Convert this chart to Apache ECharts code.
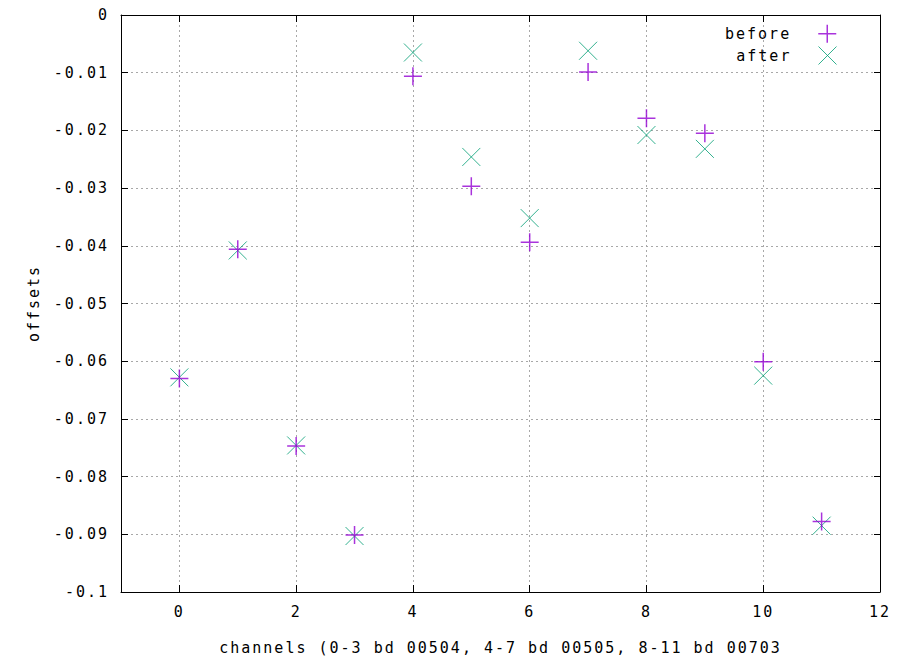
<!DOCTYPE html>
<html>
<head>
<meta charset="utf-8">
<script src="https://cdn.jsdelivr.net/npm/echarts@6/dist/echarts.min.js"></script>
<style>
html,body{margin:0;padding:0;background:#fff;}
#chart{width:904px;height:660px;}
#chart text{letter-spacing:2px;}
</style>
</head>
<body>
<div id="chart"></div>
<script>
// ---- data ----
var channels = [0, 1, 2, 3, 4, 5, 6, 7, 8, 9, 10, 11];
var before = [-0.0630, -0.0406, -0.0747, -0.0901, -0.0106, -0.0297, -0.0394, -0.0099, -0.0179, -0.0205, -0.0601, -0.0878];
var after  = [-0.0628, -0.0408, -0.0746, -0.0903, -0.0065, -0.0246, -0.0352, -0.0062, -0.0208, -0.0232, -0.0625, -0.0885];
var xTicks = [0, 2, 4, 6, 8, 10, 12];
var xName = 'channels (0-3 bd 00504, 4-7 bd 00505, 8-11 bd 00703';
var yName = 'offsets';

var PLUS = 'path://M0,5L10,5M5,0L5,10';
var CROSS = 'path://M0,0L10,10M10,0L0,10';
var PURPLE = '#9400d3';
var GREEN = '#009e73';
var FONT = 'DejaVu Sans Mono';

function pairs(xs, ys) { return xs.map(function (x, i) { return [x, ys[i]]; }); }

var chart = echarts.init(document.getElementById('chart'), null, { renderer: 'svg' });
var axisLine = { show: true, onZero: false, lineStyle: { color: '#000', width: 1 } };
var grid = { left: 121, right: 24, top: 15, bottom: 67 };

function legendFor(name, icon, color, width, top) {
  var st = { color: 'rgba(0,0,0,0)', borderColor: color, borderWidth: width };
  return {
    data: [{ name: name, icon: icon, itemStyle: st }],
    itemStyle: st,
    right: 67, top: top, padding: 0, align: 'right', itemWidth: 18, itemHeight: 18, selectedMode: false,
    formatter: function (n) { return n + '\u00a0\u00a0'; },
    textStyle: { fontFamily: FONT, fontSize: 15, color: '#000' }
  };
}

chart.setOption({
  backgroundColor: '#fff',
  animation: false,
  grid: grid,
  legend: [
    legendFor('before', PLUS, PURPLE, 1.5, 24),
    legendFor('after', CROSS, GREEN, 1, 46)
  ],
  xAxis: [
    { type: 'value', position: 'bottom', min: -1, max: 12,
      name: xName, nameLocation: 'middle', nameGap: 48,
      nameTextStyle: { fontFamily: FONT, fontSize: 15, color: '#000' },
      axisLine: axisLine,
      axisTick: { show: true, inside: true, length: 7, customValues: xTicks, lineStyle: { color: '#000' } },
      axisLabel: { customValues: xTicks, margin: 12, fontFamily: FONT, fontSize: 15, color: '#000' },
      splitLine: { show: true, lineStyle: { color: '#a8a8a8', type: [2, 3], width: 1 } } },
    { type: 'value', position: 'top', min: -1, max: 12,
      axisLine: axisLine,
      axisTick: { show: true, inside: true, length: 7, customValues: xTicks, lineStyle: { color: '#000' } },
      axisLabel: { show: false }, splitLine: { show: false } }
  ],
  yAxis: [
    { type: 'value', position: 'left', min: -0.1, max: 0, interval: 0.01,
      name: yName, nameLocation: 'middle', nameGap: 80,
      nameTextStyle: { fontFamily: FONT, fontSize: 15, color: '#000' },
      axisLine: axisLine,
      axisTick: { show: true, inside: true, length: 7, lineStyle: { color: '#000' } },
      axisLabel: { margin: 12, fontFamily: FONT, fontSize: 15, color: '#000',
        formatter: function (v) { return String(parseFloat(v.toFixed(3))); } },
      splitLine: { show: true, lineStyle: { color: '#a8a8a8', type: [2, 3], width: 1 } } },
    { type: 'value', position: 'right', min: -0.1, max: 0, interval: 0.01,
      axisLine: axisLine,
      axisTick: { show: true, inside: true, length: 6, lineStyle: { color: '#000' } },
      axisLabel: { show: false }, splitLine: { show: false } }
  ],
  series: [
    { name: 'before', type: 'scatter', xAxisIndex: 0, yAxisIndex: 0,
      data: pairs(channels, before), symbol: PLUS, symbolSize: 18,
      itemStyle: { color: 'rgba(0,0,0,0)', borderColor: PURPLE, borderWidth: 1.5 },
      emphasis: { disabled: true }, z: 3 },
    { name: 'after', type: 'scatter', xAxisIndex: 0, yAxisIndex: 0,
      data: pairs(channels, after), symbol: CROSS, symbolSize: 18,
      itemStyle: { color: 'rgba(0,0,0,0)', borderColor: GREEN, borderWidth: 1 },
      emphasis: { disabled: true }, z: 2 }
  ]
});
</script>
</body>
</html>
